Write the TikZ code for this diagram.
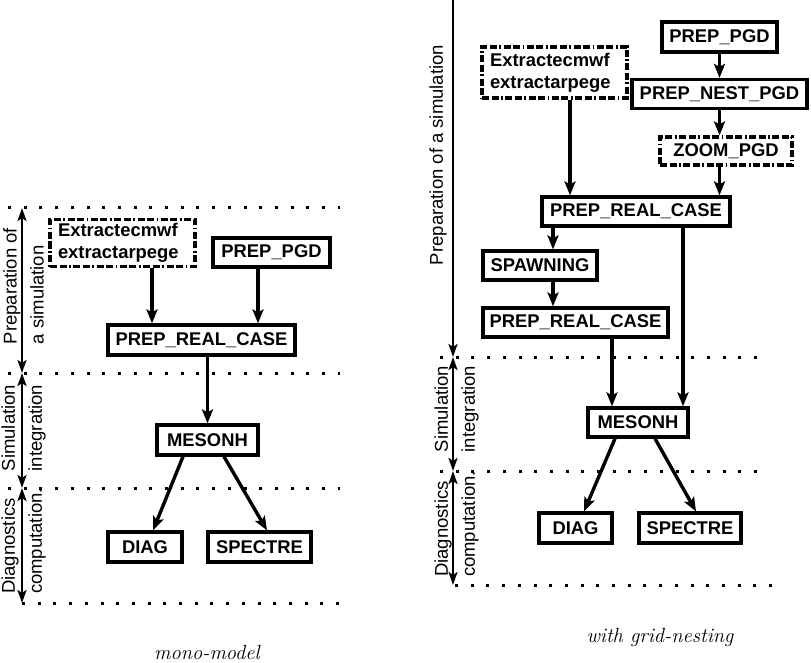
\documentclass[tikz,border=0pt]{standalone}
\usepackage{fontspec}
\newfontfamily\hv{Liberation Sans}
\usetikzlibrary{arrows.meta}
\begin{document}
\begin{tikzpicture}[x=1pt,y=-1pt,
  box/.style={draw,line width=3.2pt,inner sep=0pt,font=\hv\bfseries\fontsize{18.4}{22}\selectfont},
  dbox/.style={box,dash pattern=on 7pt off 2.5pt on 7pt off 2.5pt on 1.8pt off 2.5pt},
  extbox/.style={dbox,align=left,text width=#1,inner xsep=8pt},
  arr/.style={line width=3.4pt,-{Stealth[length=14pt,width=11pt,inset=3pt]}},
  darr/.style={line width=2.6pt,{Stealth[length=13pt,width=9pt,inset=3pt]}-{Stealth[length=13pt,width=9pt,inset=3pt]}},
  sarr/.style={line width=2.6pt,-{Stealth[length=13pt,width=9pt,inset=3pt]}},
  sep/.style={line width=3pt,dash pattern=on 3pt off 12.7pt},
  lab/.style={rotate=90,align=left,inner sep=0pt,font=\hv\fontsize{18.5}{27}\selectfont},
  captxt/.style={inner sep=0pt,font=\itshape\fontsize{20.5}{24}\selectfont}]
\useasboundingbox (0,0) rectangle (811,663);

% ---------- left panel ----------
\coordinate (LS0a) at (8,208);  \coordinate (LS0b) at (340,208);
\coordinate (LS1a) at (8,373);  \coordinate (LS1b) at (340,373);
\coordinate (LS2a) at (8,488);  \coordinate (LS2b) at (340,488);
\coordinate (LS3a) at (22,603); \coordinate (LS3b) at (350,603);
\draw[sep] (LS0a) -- (LS0b);
\draw[sep] (LS1a) -- (LS1b);
\draw[sep] (LS2a) -- (LS2b);
\draw[sep] (LS3a) -- (LS3b);

\coordinate (L0) at (22,208);
\coordinate (L1) at (22,373);
\coordinate (L2) at (22,488);
\coordinate (L3) at (22,603);
\draw[darr] (L0) -- (L1);
\draw[darr] (L1) -- (L2);
\draw[darr] (L2) -- (L3);

\node[lab] (lp) at (23.5,286) {Preparation of\\a simulation};
\node[lab] (ls) at (23.5,428) {Simulation\\integration};
\node[lab] (ld) at (23.5,541) {Diagnostics\\computation.};

\node[extbox=129pt,minimum height=47pt] (ext1) at (122.5,243) {Extractecmwf\\extractarpege};
\node[box,minimum width=117pt,minimum height=29pt] (pgd1) at (271.5,252.5) {PREP\_PGD};
\node[box,minimum width=187pt,minimum height=30pt] (prc1) at (201.5,340) {PREP\_REAL\_CASE};
\node[box,minimum width=101pt,minimum height=30pt] (mes1) at (207.5,440) {MESONH};
\node[box,minimum width=74pt,minimum height=30pt] (diag1) at (145,547) {DIAG};
\node[box,minimum width=103pt,minimum height=30pt] (spec1) at (259.5,547) {SPECTRE};

\draw[arr] ([xshift=29.5pt]ext1.south) -- ([xshift=29.5pt]ext1.south |- prc1.north);
\draw[arr] ([xshift=-13.5pt]pgd1.south) -- ([xshift=-13.5pt]pgd1.south |- prc1.north);
\draw[arr] (prc1.south -| mes1.north) -- (mes1.north);
\draw[arr] ([xshift=-24.5pt]mes1.south) -- ([xshift=8pt]diag1.north);
\draw[arr] ([xshift=16.5pt]mes1.south) -- ([xshift=7.5pt]spec1.north);

\node[captxt] (c1) at (207,652.5) {mono-model};

% ---------- right panel ----------
\coordinate (RS1a) at (440,357); \coordinate (RS1b) at (765,357);
\coordinate (RS2a) at (440,471); \coordinate (RS2b) at (765,471);
\coordinate (RS3a) at (455,585); \coordinate (RS3b) at (780,585);
\draw[sep] (RS1a) -- (RS1b);
\draw[sep] (RS2a) -- (RS2b);
\draw[sep] (RS3a) -- (RS3b);

\coordinate (R0) at (453,0);
\coordinate (R1) at (453,357);
\coordinate (R2) at (453,471);
\coordinate (R3) at (453,585);
\draw[sarr] (R0) -- (R1);
\draw[darr] (R1) -- (R2);
\draw[darr] (R2) -- (R3);

\node[lab] (rp) at (438,155) {Preparation of a simulation};
\node[lab] (rs) at (456.5,409) {Simulation\\integration};
\node[lab] (rd) at (456.5,524) {Diagnostics\\computation.};

\node[box,minimum width=115pt,minimum height=30pt] (pgd2) at (719.5,37) {PREP\_PGD};
\node[extbox=129pt,minimum height=51pt] (ext2) at (554.5,72.5) {Extractecmwf\\extractarpege};
\node[box,minimum width=175pt,minimum height=29pt] (nest2) at (719.5,94) {PREP\_NEST\_PGD};
\node[dbox,minimum width=132pt,minimum height=28pt] (zoom2) at (726,151) {ZOOM\_PGD};
\node[box,minimum width=188pt,minimum height=29pt] (prc2a) at (636,211.5) {PREP\_REAL\_CASE};
\node[box,minimum width=114pt,minimum height=29pt] (spawn) at (540,265.5) {SPAWNING};
\node[box,minimum width=185pt,minimum height=29pt] (prc2b) at (575.5,322.5) {PREP\_REAL\_CASE};
\node[box,minimum width=100pt,minimum height=29pt] (mes2) at (638,422.5) {MESONH};
\node[box,minimum width=73pt,minimum height=30pt] (diag2) at (575.5,528) {DIAG};
\node[box,minimum width=102pt,minimum height=30pt] (spec2) at (690,528) {SPECTRE};

\draw[arr] ([xshift=15.5pt]ext2.south) -- ([xshift=15.5pt]ext2.south |- prc2a.north);
\draw[arr] (pgd2.south) -- (nest2.north);
\draw[arr] (nest2.south) -- (nest2.south |- zoom2.north);
\draw[arr] (zoom2.south -| nest2.south) -- (nest2.south |- prc2a.north);
\draw[arr] ([xshift=-83pt]prc2a.south) -- ([xshift=-83pt]prc2a.south |- spawn.north);
\draw[arr] ([xshift=13pt]spawn.south) -- ([xshift=13pt]spawn.south |- prc2b.north);
\draw[arr] ([xshift=36.5pt]prc2b.south) -- ([xshift=36.5pt]prc2b.south |- mes2.north);
\draw[arr] ([xshift=47pt]prc2a.south) -- ([xshift=47pt]prc2a.south |- mes2.north);
\draw[arr] ([xshift=-23pt]mes2.south) -- ([xshift=8.5pt]diag2.north);
\draw[arr] ([xshift=17pt]mes2.south) -- ([xshift=6pt]spec2.north);

\node[captxt] (c2) at (660,637) {with grid-nesting};
\end{tikzpicture}
\end{document}
